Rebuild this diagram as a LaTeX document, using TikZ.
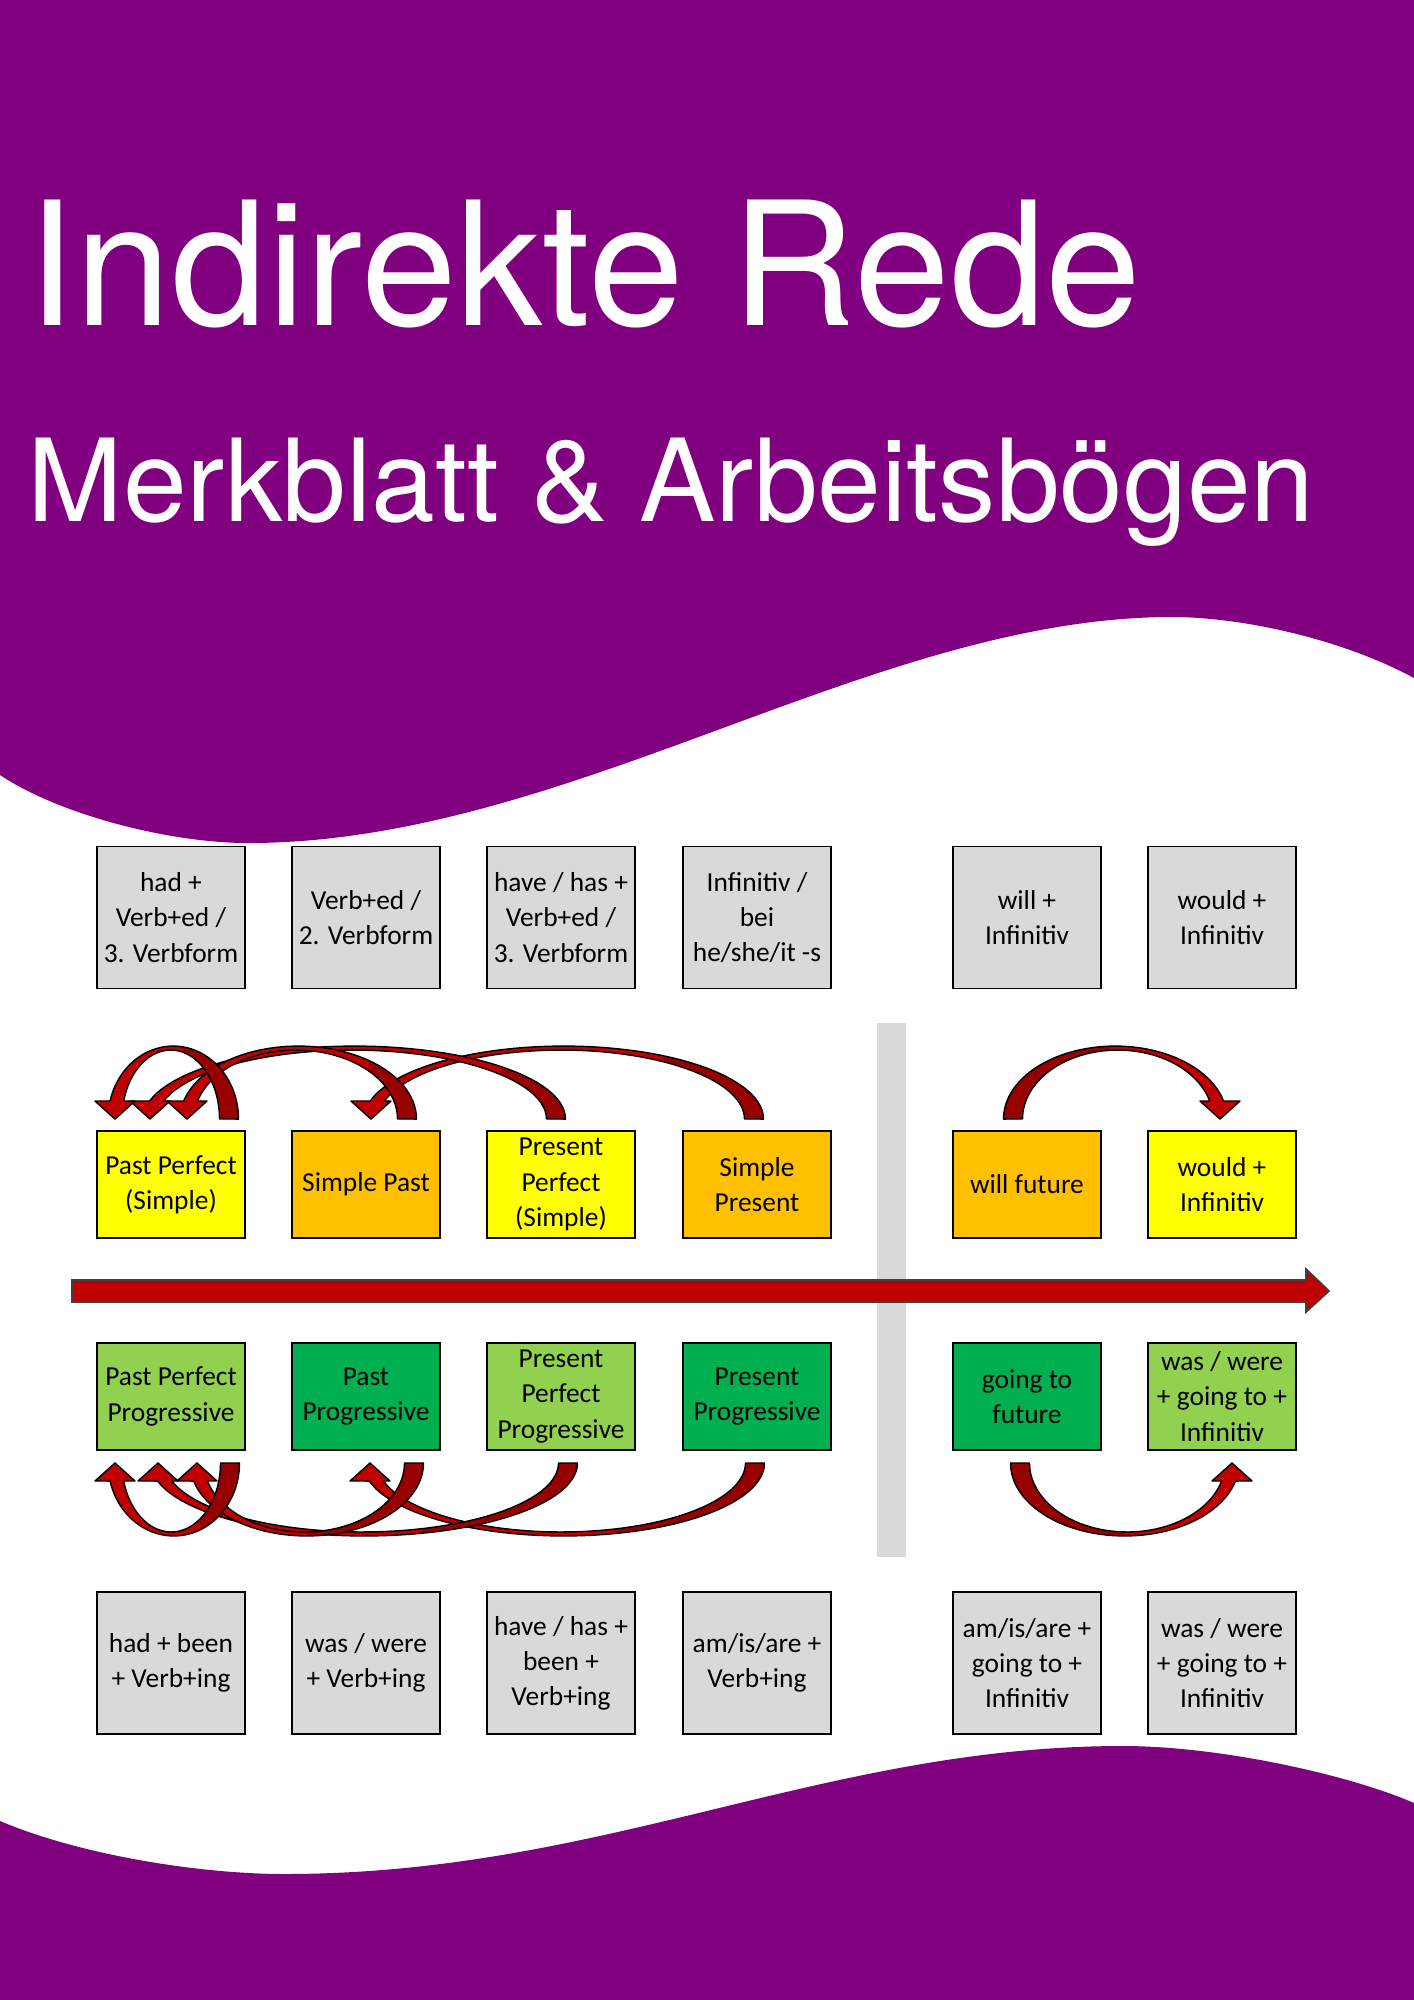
\documentclass[tikz,border=0pt]{standalone}
\usepackage{fontspec}
\setmainfont{Carlito}
\newfontfamily\rsTitleFont{TeX Gyre Heros}
\usetikzlibrary{calc}
\definecolor{rsPurple}{HTML}{800080}
\definecolor{rsGray}{HTML}{D9D9D9}
\definecolor{rsYellow}{HTML}{FFFF00}
\definecolor{rsOrange}{HTML}{FFC000}
\definecolor{rsLightGreen}{HTML}{92D050}
\definecolor{rsGreen}{HTML}{00B050}
\definecolor{rsRed}{HTML}{C00000}
\definecolor{rsDarkRed}{HTML}{960000}
\definecolor{rsBar}{HTML}{D9D9D9}
% curved block arrow parameters (px units)
\def\rsWt{9.5}\def\rsWh{7}\def\rsH{73}\def\rsHi{69}\def\rsHl{18}\def\rsHw{20}
\newcommand\rsArrowPath{(\rsWt,0) -- plot[domain=0:1,samples=50] ({\rsCxo+\rsAo*cos(\rsTho*\x)},{-\rsH*sin(\rsTho*\x)})
 -- (-\rsL-\rsHw,-\rsHl) -- (-\rsL,0) -- (-\rsL+\rsHw,-\rsHl)
 -- plot[domain=0:1,samples=50] ({\rsCxi+\rsAi*cos(\rsThi*(1-\x))},{-\rsHi*sin(\rsThi*(1-\x))})
 -- cycle}
% #1 tail foot, #2 length tail->head, #3 xscale, #4 yscale, #5 dark fraction
\newcommand\rsCurvedArrow[5]{%
 \pgfmathsetmacro\rsL{#2}%
 \pgfmathsetmacro\rsCxo{(\rsWt-\rsL-\rsWh)/2}%
 \pgfmathsetmacro\rsAo{(\rsWt+\rsL+\rsWh)/2}%
 \pgfmathsetmacro\rsCxi{(-\rsWt-\rsL+\rsWh)/2}%
 \pgfmathsetmacro\rsAi{(\rsL-\rsWh-\rsWt)/2}%
 \pgfmathsetmacro\rsTho{180-asin(\rsHl/\rsH)}%
 \pgfmathsetmacro\rsThi{180-asin(\rsHl/\rsHi)}%
 \pgfmathsetmacro\rsDx{\rsCxo+#5*\rsAo}%
 \begin{scope}[shift={#1},xscale=#3,yscale=#4]
  \begin{scope}
   \clip \rsArrowPath;
   \fill[rsRed] (-\rsL-40,-\rsH-20) rectangle (40,20);
   \fill[rsDarkRed] (\rsDx,-\rsH-20) rectangle (40,20);
  \end{scope}
  \draw[black,line width=0.4pt,line join=round] \rsArrowPath;
 \end{scope}}
\begin{document}
\begin{tikzpicture}[x=0.1mm,y=-0.1mm,
  tense/.style={draw=black,line width=0.55pt,minimum width=14.8mm,minimum height=10.7mm,
    inner sep=0pt,align=center,font=\fontsize{7.8}{10}\selectfont},
  form/.style={tense,fill=rsGray,minimum height=14.2mm},
  yel/.style={tense,fill=rsYellow},
  ora/.style={tense,fill=rsOrange},
  lgr/.style={tense,fill=rsLightGreen},
  dgr/.style={tense,fill=rsGreen},
  title/.style={anchor=base west,inner sep=0pt,text=white}]
\useasboundingbox (0,0) rectangle (1414,2000);
\fill[white] (0,0) rectangle (1414,2000);
% purple waves
\fill[rsPurple] (0,0) -- (0,775) .. controls (60,815) and (170,843) .. (248,843)
  .. controls (568,843) and (872,617) .. (1172,617)
  .. controls (1240,617) and (1340,638) .. (1414,678) -- (1414,0) -- cycle;
\fill[rsPurple] (0,2000) -- (0,1821) .. controls (80,1855) and (200,1874) .. (284,1874)
  .. controls (604,1874) and (823,1746) .. (1123,1746)
  .. controls (1220,1746) and (1350,1775) .. (1414,1803) -- (1414,2000) -- cycle;
% titles
\node[title,font=\rsTitleFont\fontsize{49}{49}\selectfont] (t1) at (27,325) {Indirekte Rede};
\node[title,font=\rsTitleFont\fontsize{32.6}{33}\selectfont] (t2) at (27,521) {Merkblatt \& Arbeitsbögen};
% separator bar
\fill[rsBar] (877,1023) rectangle (906,1557);
% top forms
\node[form] (f1) at (171,917.5) {had +\\Verb+ed /\\3. Verbform};
\node[form] (f2) at (366,917.5) {Verb+ed /\\2. Verbform};
\node[form] (f3) at (561,917.5) {have / has +\\Verb+ed /\\3. Verbform};
\node[form] (f4) at (757,917.5) {Infinitiv /\\bei\\he/she/it -s};
\node[form] (f5) at (1027,917.5) {will +\\Infinitiv};
\node[form] (f6) at (1222,917.5) {would +\\Infinitiv};
% simple tenses
\node[yel] (pp) at (171,1184.5) {Past Perfect\\(Simple)};
\node[ora] (sp) at (366,1184.5) {Simple Past};
\node[yel] (prp) at (561,1184.5) {Present\\Perfect\\(Simple)};
\node[ora] (spr) at (757,1184.5) {Simple\\Present};
\node[ora] (wf) at (1027,1184.5) {will future};
\node[yel] (wi) at (1222,1184.5) {would +\\Infinitiv};
% progressive tenses
\node[lgr] (ppp) at (171,1396.5) {Past Perfect\\Progressive};
\node[dgr] (pg) at (366,1396.5) {Past\\Progressive};
\node[lgr] (prpp) at (561,1396.5) {Present\\Perfect\\Progressive};
\node[dgr] (prg) at (757,1396.5) {Present\\Progressive};
\node[dgr] (gt) at (1027,1396.5) {going to\\future};
\node[lgr] (wg) at (1222,1396.5) {was / were\\+ going to +\\Infinitiv};
% bottom forms
\node[form] (g1) at (171,1663) {had + been\\+ Verb+ing};
\node[form] (g2) at (366,1663) {was / were\\+ Verb+ing};
\node[form] (g3) at (561,1663) {have / has +\\been +\\Verb+ing};
\node[form] (g4) at (757,1663) {am/is/are +\\Verb+ing};
\node[form] (g5) at (1027,1663) {am/is/are +\\going to +\\Infinitiv};
\node[form] (g6) at (1222,1663) {was / were\\+ going to +\\Infinitiv};
% timeline arrow
\draw[fill=rsRed,draw=black!75,line width=0.5pt,line join=miter] (72,1280) -- (1306,1280) -- (1306,1269) -- (1329,1291) -- (1306,1312) -- (1306,1302) -- (72,1302) -- cycle;
% curved arrows, top row
\rsCurvedArrow{($(spr.north)+(-3,-11)$)}{383}{1}{1}{0.5}
\rsCurvedArrow{($(prp.north)+(-5,-11)$)}{406}{1}{1}{0.7}
\rsCurvedArrow{($(sp.north)+(41,-11)$)}{220}{1}{1}{0.6}
\rsCurvedArrow{($(pp.north)+(58,-11)$)}{114}{1}{1}{0.15}
\rsCurvedArrow{($(wf.north)+(-14,-11)$)}{207}{-1}{1}{0.05}
% curved arrows, bottom row
\rsCurvedArrow{($(prg.south)+(-2,12)$)}{385}{1}{-1}{0.25}
\rsCurvedArrow{($(prpp.south)+(7,12)$)}{410}{1}{-1}{0.27}
\rsCurvedArrow{($(pg.south)+(48,12)$)}{217}{1}{-1}{0.0}
\rsCurvedArrow{($(ppp.south)+(59,12)$)}{115}{1}{-1}{0.4}
\rsCurvedArrow{($(gt.south)+(-7,12)$)}{212}{-1}{-1}{0.0}
\end{tikzpicture}
\end{document}
